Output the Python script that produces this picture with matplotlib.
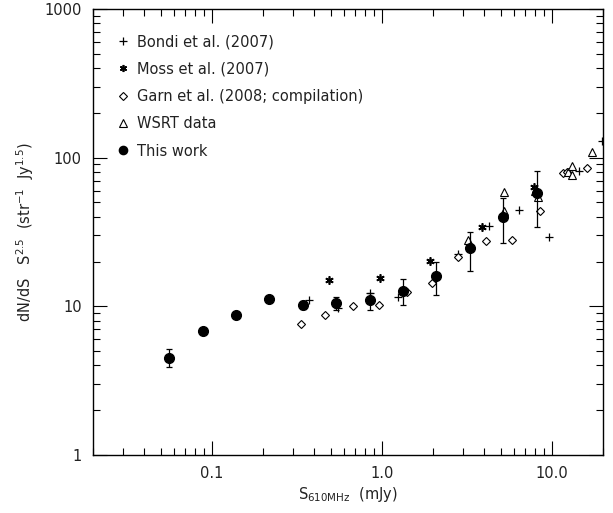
import matplotlib
matplotlib.use("Agg")
import matplotlib.pyplot as plt
from matplotlib.ticker import FixedLocator, FixedFormatter, LogLocator, NullFormatter

# This work (filled circles with errors)
this_s = [0.056, 0.0885, 0.138, 0.217, 0.343, 0.538, 0.847, 1.33, 2.08, 3.28, 5.15, 8.13]
this_n = [4.5, 6.85, 8.74, 11.25, 10.25, 10.5, 11.1, 12.7, 16.0, 24.5, 40.0, 57.5]
this_hi = [5.2, 7.2, 9.1, 11.6, 10.8, 11.6, 12.3, 15.2, 20.0, 31.7, 53.2, 81.0]
this_lo = [3.9, 6.5, 8.4, 10.9, 9.6, 9.4, 9.4, 10.2, 11.9, 17.2, 26.8, 34.2]

# Bondi et al. (2007)
bondi_s = [0.372, 0.553, 0.847, 1.25, 2.81, 4.27, 6.4, 9.57, 14.4, 19.8]
bondi_n = [11.1, 9.7, 12.2, 11.5, 22.5, 34.7, 44.2, 29.4, 81.3, 130.0]

# Moss et al. (2007)
moss_s = [0.49, 0.974, 1.93, 3.91, 7.83]
moss_n = [15.0, 15.6, 20.3, 34.3, 63.1]

# Garn et al. (2008; compilation)
garn_s = [0.333, 0.465, 0.673, 0.964, 1.40, 1.97, 2.81, 4.09, 5.80, 8.53, 11.7, 12.2, 16.0]
garn_n = [7.57, 8.74, 10.05, 10.25, 12.5, 14.4, 21.4, 27.5, 28.1, 43.7, 78.8, 80.5, 85.5]

# WSRT data
wsrt_s = [3.22, 5.22, 5.22, 8.32, 8.0, 12.5, 13.1, 13.1, 17.3]
wsrt_n = [27.9, 58.4, 43.7, 54.1, 60.0, 80.0, 87.8, 76.4, 108.6]

fig = plt.figure(figsize=(6.13, 5.13), dpi=100)
ax = fig.add_axes([93 / 613, 1 - 455 / 513, 510 / 613, 446 / 513])

ax.plot(bondi_s, bondi_n, "+", color="black", ms=6, mew=0.9, label="Bondi et al. (2007)")
ax.plot(moss_s, moss_n, marker=(6, 2, 0), ls="none", color="black", ms=6, mew=1.2, label="Moss et al. (2007)")
ax.plot(garn_s, garn_n, "D", mfc="white", mec="black", ms=4.5, mew=0.8, ls="none",
        label="Garn et al. (2008; compilation)")
ax.plot(wsrt_s, wsrt_n, "^", mfc="white", mec="black", ms=6, mew=0.8, ls="none", label="WSRT data")
yerr = [[n - lo for n, lo in zip(this_n, this_lo)], [hi - n for n, hi in zip(this_n, this_hi)]]
ax.errorbar(this_s, this_n, yerr=yerr, fmt="none", ecolor="black", elinewidth=0.9,
            capsize=2, capthick=0.9)
ax.plot(this_s, this_n, "o", color="black", ms=7, ls="none", label="This work")

ax.set_xscale("log")
ax.set_yscale("log")
ax.set_xlim(0.02, 20)
ax.set_ylim(1, 1000)

ax.xaxis.set_major_locator(FixedLocator([0.1, 1.0, 10.0]))
ax.xaxis.set_major_formatter(FixedFormatter(["0.1", "1.0", "10.0"]))
ax.xaxis.set_minor_locator(LogLocator(base=10, subs=range(2, 10)))
ax.xaxis.set_minor_formatter(NullFormatter())
ax.yaxis.set_major_locator(FixedLocator([1, 10, 100, 1000]))
ax.yaxis.set_major_formatter(FixedFormatter(["1", "10", "100", "1000"]))
ax.yaxis.set_minor_locator(LogLocator(base=10, subs=range(2, 10)))
ax.yaxis.set_minor_formatter(NullFormatter())

ax.tick_params(which="both", direction="in", top=True, right=True, labelsize=10.5, width=0.8,
               labelcolor="#222222")
ax.tick_params(which="major", length=10, pad=8)
ax.tick_params(which="minor", length=5)
for sp in ax.spines.values():
    sp.set_linewidth(1.0)

ax.set_xlabel("S$_{\\rm 610MHz}$  (mJy)", fontsize=10.5, labelpad=3, color="#222222")
ax.set_ylabel("dN/dS   S$^{2.5}$  (str$^{-1}$  Jy$^{1.5}$)", fontsize=10.5, labelpad=6, color="#222222")

leg = ax.legend(loc="upper left", frameon=False, fontsize=10.5, numpoints=1,
                handlelength=0.8, handletextpad=0.6, labelspacing=0.85, markerscale=0.85,
                bbox_to_anchor=(0.035, 0.957), borderaxespad=0, labelcolor="#222222")

fig.savefig("out.png", dpi=100)
